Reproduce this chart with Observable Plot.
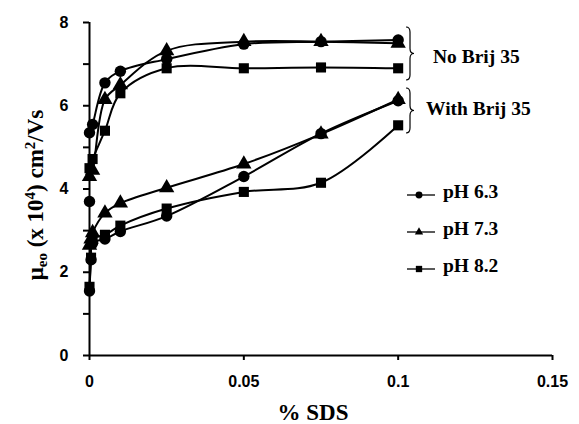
<!DOCTYPE html>
<html>
<head>
<meta charset="utf-8">
<script src="https://cdn.jsdelivr.net/npm/d3@7"></script>
<script src="https://cdn.jsdelivr.net/npm/@observablehq/plot@0.6"></script>
<style>
  html, body { margin: 0; padding: 0; background: #fff; }
  #chart { width: 579px; height: 424px; }
</style>
</head>
<body>
<div id="chart"></div>
<script>
// ---- data ----
const sdsNoBrij = [0, 0.001, 0.005, 0.01, 0.025, 0.05, 0.075, 0.1];
const noBrij_pH63 = [5.35, 5.55, 6.55, 6.83, 7.12, 7.48, 7.54, 7.58];
const noBrij_pH73 = [4.3, 4.45, 6.15, 6.5, 7.32, 7.54, 7.54, 7.5];
const noBrij_pH82 = [4.5, 4.72, 5.4, 6.3, 6.9, 6.9, 6.92, 6.9];

const sdsWithBrij = [0, 0.0005, 0.001, 0.005, 0.01, 0.025, 0.05, 0.075, 0.1];
const withBrij_pH63 = [1.55, 2.3, 2.7, 2.8, 2.98, 3.35, 4.3, 5.33, 6.12];
const withBrij_pH73 = [2.65, 2.8, 2.95, 3.42, 3.66, 4.03, 4.6, 5.32, 6.15];
const withBrij_pH82 = [1.65, 2.35, 2.8, 2.9, 3.12, 3.53, 3.93, 4.15, 5.53];

// an extra pH 6.3 (with Brij 35) reading on the axis
const extraX = [0];
const extraY = [3.7];

const xTicks = [0, 0.05, 0.1, 0.15];
const xTickLabels = ["0", "0.05", "0.1", "0.15"];
const yTicks = [0, 1, 2, 3, 4, 5, 6, 7, 8];
const yTickLabels = ["0", "", "2", "", "4", "", "6", "", "8"];

const phLabels = ["pH 6.3", "pH 7.3", "pH 8.2"];
const symbols = ["circle", "triangle", "square"];
const groupLabels = ["No Brij 35", "With Brij 35"];

// ---- build long table ----
const series = [
  {id: "no63", ph: 0, xs: sdsNoBrij, ys: noBrij_pH63},
  {id: "no73", ph: 1, xs: sdsNoBrij, ys: noBrij_pH73},
  {id: "no82", ph: 2, xs: sdsNoBrij, ys: noBrij_pH82},
  {id: "w63", ph: 0, xs: sdsWithBrij, ys: withBrij_pH63},
  {id: "w73", ph: 1, xs: sdsWithBrij, ys: withBrij_pH73},
  {id: "w82", ph: 2, xs: sdsWithBrij, ys: withBrij_pH82}
];
const rows = [];
for (const s of series) s.xs.forEach((x, i) => rows.push({x, y: s.ys[i], id: s.id, sym: symbols[s.ph]}));
const extras = extraX.map((x, i) => ({x, y: extraY[i], sym: symbols[0]}));

const W = 579, H = 424;
const mL = 89, mR = 27, mT = 22, mB = 69;

const chart = Plot.plot({
  width: W, height: H,
  marginLeft: mL, marginRight: mR, marginTop: mT, marginBottom: mB,
  style: {fontFamily: "Liberation Sans, Arial, sans-serif", fontSize: "16px", fontWeight: "bold", color: "#000", background: "#fff"},
  x: {domain: [0, 0.15]},
  y: {domain: [0, 8]},
  symbol: {domain: symbols, range: symbols},
  marks: [
    Plot.axisX({ticks: xTicks, tickFormat: (d, i) => xTickLabels[i], tickSize: 5, tickPadding: 15, strokeWidth: 2, label: null, fontWeight: "bold", fontSize: 16}),
    Plot.axisY({ticks: yTicks, tickFormat: (d, i) => yTickLabels[i], tickSize: 6, tickPadding: 15, strokeWidth: 2, label: null, fontWeight: "bold", fontSize: 16}),
    Plot.ruleX([0], {stroke: "#000", strokeWidth: 2}),
    Plot.ruleY([0], {stroke: "#000", strokeWidth: 2}),
    Plot.line(rows, {x: "x", y: "y", z: "id", stroke: "#000", strokeWidth: 2, curve: "catmull-rom"}),
    Plot.dot(rows, {x: "x", y: "y", symbol: "sym", fill: "#000", stroke: "none", r: 5.7}),
    Plot.dot(extras, {x: "x", y: "y", symbol: "sym", fill: "#000", stroke: "none", r: 5.7})
  ]
});

document.getElementById("chart").appendChild(chart);

// ---- annotations: braces, group labels, legend, axis titles ----
const svg = d3.select(chart);
const serif = "Liberation Serif, 'Times New Roman', serif";

function brace(x0, y0, y1, w) {
  const xm = x0 + w / 2, x1 = x0 + w, ym = (y0 + y1) / 2, r = 5;
  return `M${x0},${y0} Q${xm},${y0} ${xm},${y0 + r} L${xm},${ym - r} Q${xm},${ym} ${x1},${ym} ` +
         `Q${xm},${ym} ${xm},${ym + r} L${xm},${y1 - r} Q${xm},${y1} ${x0},${y1}`;
}
const ann = svg.append("g").attr("text-anchor", "start");
ann.append("path").attr("d", brace(406, 27, 80, 8)).attr("fill", "none").attr("stroke", "#000").attr("stroke-width", 1.2);
ann.append("path").attr("d", brace(406, 88, 133, 8)).attr("fill", "none").attr("stroke", "#000").attr("stroke-width", 1.2);
ann.append("text").attr("x", 433).attr("y", 63).attr("text-anchor", "start").text(groupLabels[0])
  .attr("font-family", serif).attr("font-size", 19.5).attr("font-weight", "bold");
ann.append("text").attr("x", 426).attr("y", 115).attr("text-anchor", "start").text(groupLabels[1])
  .attr("font-family", serif).attr("font-size", 19.5).attr("font-weight", "bold");

// legend
const legY = [195, 232, 269];
const symGen = {circle: d3.symbolCircle, triangle: d3.symbolTriangle, square: d3.symbolSquare};
const symSize = {circle: 38, triangle: 30, square: 40};
phLabels.forEach((lab, i) => {
  const g = ann.append("g");
  g.append("line").attr("x1", 407).attr("x2", 435).attr("y1", legY[i]).attr("y2", legY[i]).attr("stroke", "#000").attr("stroke-width", 1.3);
  g.append("path").attr("d", d3.symbol(symGen[symbols[i]], symSize[symbols[i]])())
    .attr("transform", `translate(419,${legY[i]})`).attr("fill", "#000");
  g.append("text").attr("x", 443).attr("y", legY[i] + 3).attr("text-anchor", "start").text(lab)
    .attr("font-family", serif).attr("font-size", 19.5).attr("font-weight", "bold");
});

// x axis title
ann.append("text").attr("x", 313).attr("y", 420).attr("text-anchor", "middle").text("% SDS")
  .attr("font-family", serif).attr("font-size", 23).attr("font-weight", "bold");

// y axis title with sub/superscripts
const yt = ann.append("text").attr("transform", "translate(43,195) rotate(-90)").attr("text-anchor", "middle")
  .attr("font-family", serif).attr("font-size", 23).attr("font-weight", "bold");
yt.append("tspan").text("μ");
yt.append("tspan").text("eo").attr("font-size", 15).attr("dy", 4);
yt.append("tspan").text(" (x 10").attr("dy", -4);
yt.append("tspan").text("4").attr("font-size", 15).attr("dy", -8);
yt.append("tspan").text(") cm").attr("dy", 8);
yt.append("tspan").text("2").attr("font-size", 15).attr("dy", -8);
yt.append("tspan").text("/Vs").attr("dy", 8);
</script>
</body>
</html>
